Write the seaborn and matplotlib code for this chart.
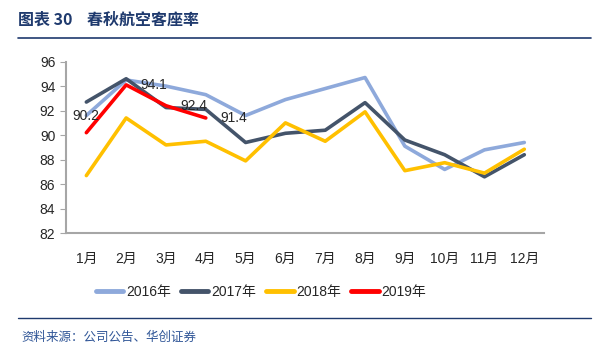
import matplotlib.pyplot as plt
import seaborn as sns
import pandas as pd
from matplotlib.lines import Line2D

months = ["1月", "2月", "3月", "4月", "5月", "6月", "7月", "8月", "9月", "10月", "11月", "12月"]
y2016 = [91.6, 94.5, 94.0, 93.3, 91.6, 92.9, 93.8, 94.7, 89.1, 87.2, 88.8, 89.4]
y2017 = [92.7, 94.6, 92.25, 92.1, 89.4, 90.15, 90.4, 92.65, 89.6, 88.4, 86.6, 88.4]
y2018 = [86.7, 91.4, 89.2, 89.5, 87.9, 91.0, 89.5, 91.9, 87.1, 87.75, 86.9, 88.85]
y2019 = [90.2, 94.1, 92.4, 91.4]
series_names = ["2016年", "2017年", "2018年", "2019年"]
colors = ["#8EA9DB", "#44546A", "#FFC000", "#FF0000"]

rows = []
for name, vals in zip(series_names, [y2016, y2017, y2018, y2019]):
    for m, v in zip(months, vals):
        rows.append({"month": m, "value": v, "year": name})
df = pd.DataFrame(rows)

sns.set_style("white")
plt.rcParams["font.family"] = ["Liberation Sans", "Noto Sans CJK SC", "DejaVu Sans"]

fig = plt.figure(figsize=(6.04, 3.56), dpi=100)
ax = fig.add_axes([0.110, 0.345, 0.791, 0.482])

sns.lineplot(data=df, x="month", y="value", hue="year", palette=colors,
             linewidth=2.6, ax=ax, legend=False, sort=False)

ax.set_ylim(82, 96)
ax.set_yticks(range(82, 97, 2))
ax.set_xlim(-0.5, 11.5)
ax.set_xlabel("")
ax.set_ylabel("")
for s in ["top", "right"]:
    ax.spines[s].set_visible(False)
for s in ["left", "bottom"]:
    ax.spines[s].set_color("#A6A6A6")
    ax.spines[s].set_linewidth(1.5)
ax.tick_params(axis="y", left=True, length=4, color="#A6A6A6", labelsize=10, pad=4)
ax.tick_params(axis="x", bottom=False, labelsize=10, pad=10)

# data labels for 2019
offsets = [(0, 12), (20, 0), (20, 0), (20, 0)]
for i, (v, off) in enumerate(zip(y2019, offsets)):
    ax.annotate(f"{v:.1f}", (i, v), xytext=off, textcoords="offset points",
                ha="center", va="center", fontsize=10)

handles = [Line2D([0], [0], color=c, lw=3.5) for c in colors]
fig.legend(handles, series_names, loc="center", bbox_to_anchor=(0.432, 0.18),
           ncol=4, frameon=False, fontsize=10, handlelength=2.0,
           handletextpad=0.2, columnspacing=0.7)

fig.text(0.03, 0.945, "图表 30    春秋航空客座率", fontsize=11.5, fontweight="bold",
         color="#1F3A6E", family=["Noto Sans CJK SC"], va="center")
fig.add_artist(Line2D([0.03, 0.978], [0.893, 0.893], color="#1F3A6E", lw=1.2))
fig.add_artist(Line2D([0.03, 0.978], [0.108, 0.108], color="#1F3A6E", lw=1.0))
fig.text(0.035, 0.053, "资料来源：公司公告、华创证券", fontsize=9, style="italic",
         color="#2F5597", family=["Noto Sans CJK SC"], va="center")

fig.savefig("out.png", dpi=100)
